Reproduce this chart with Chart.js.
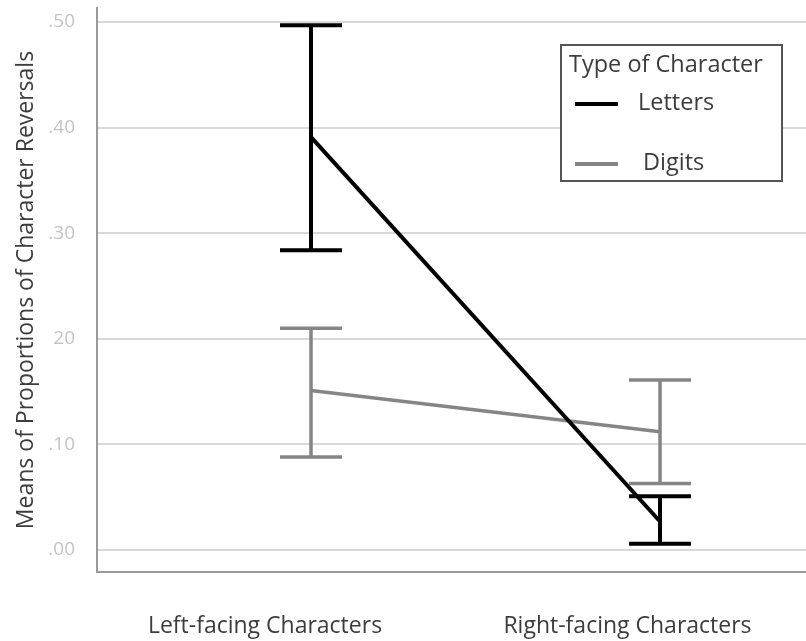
<!DOCTYPE html>
<html>
<head>
<meta charset="utf-8">
<script src="https://cdn.jsdelivr.net/npm/chart.js@4"></script>
<style>
  html, body { margin: 0; padding: 0; background: #fff; }
  #wrap { width: 806px; height: 641px; }
</style>
</head>
<body>
<div id="wrap"><canvas id="c" width="806" height="641"></canvas></div>
<script>
// Categories and tick labels
const CATEGORIES = ['Left-facing Characters', 'Right-facing Characters'];
const Y_TICK_LABELS = ['.00', '.10', '20', '.30', '.40', '.50'];

// Means and error-bar limits per type of character
const LETTERS = [0.391, 0.027];
const LETTERS_LOW = [0.284, 0.006];
const LETTERS_HIGH = [0.497, 0.051];

const DIGITS = [0.151, 0.112];
const DIGITS_LOW = [0.088, 0.063];
const DIGITS_HIGH = [0.210, 0.161];

const FONT = "'Open Sans', 'Liberation Sans', sans-serif";
const BLACK = '#000000';
const GRAY = '#858585';
const TEXT = '#3c3c3c';

function points(values) {
  return values.map((v, i) => ({ x: i, y: v }));
}

// Vertical error bars with caps, taken from the low/high arrays
const errorBars = {
  id: 'errorBars',
  afterDatasetsDraw(chart) {
    const { ctx, scales } = chart;
    const capHalf = 31;
    [1, 0].forEach(di => {
      const ds = chart.data.datasets[di];
      ctx.save();
      ctx.strokeStyle = ds.borderColor;
      ctx.lineWidth = ds.borderWidth;
      ctx.lineCap = 'butt';
      ds.low.forEach((lo, i) => {
        const x = scales.x.getPixelForValue(i);
        const yLo = scales.y.getPixelForValue(lo);
        const yHi = scales.y.getPixelForValue(ds.high[i]);
        ctx.beginPath();
        ctx.moveTo(x, yLo); ctx.lineTo(x, yHi);
        ctx.moveTo(x - capHalf, yLo); ctx.lineTo(x + capHalf, yLo);
        ctx.moveTo(x - capHalf, yHi); ctx.lineTo(x + capHalf, yHi);
        ctx.stroke();
      });
      ctx.restore();
    });
  }
};

// Boxed legend with a title, drawn inside the plot area
const boxLegend = {
  id: 'boxLegend',
  afterDraw(chart) {
    const { ctx } = chart;
    const bx = 561, by = 45, bw = 221, bh = 136;
    ctx.save();
    ctx.fillStyle = '#ffffff';
    ctx.fillRect(bx, by, bw, bh);
    ctx.strokeStyle = '#555555';
    ctx.lineWidth = 2;
    ctx.strokeRect(bx, by, bw, bh);
    ctx.fillStyle = TEXT;
    ctx.font = '23.5px ' + FONT;
    ctx.textBaseline = 'middle';
    ctx.textAlign = 'left';
    ctx.fillText('Type of Character', bx + 8, by + 20);
    const rows = [by + 59, by + 119];
    const textX = [bx + 77, bx + 82];
    chart.data.datasets.forEach((ds, i) => {
      const y = rows[i];
      ctx.strokeStyle = ds.borderColor;
      ctx.lineWidth = 4;
      ctx.beginPath();
      ctx.moveTo(bx + 14, y);
      ctx.lineTo(bx + 57, y);
      ctx.stroke();
      ctx.fillStyle = TEXT;
      ctx.fillText(ds.label, textX[i], y - 1);
    });
    ctx.restore();
  }
};

new Chart(document.getElementById('c'), {
  type: 'line',
  data: {
    datasets: [
      {
        label: 'Letters',
        data: points(LETTERS),
        low: LETTERS_LOW,
        high: LETTERS_HIGH,
        borderColor: BLACK,
        borderWidth: 4,
        pointRadius: 0,
        tension: 0
      },
      {
        label: 'Digits',
        data: points(DIGITS),
        low: DIGITS_LOW,
        high: DIGITS_HIGH,
        borderColor: GRAY,
        borderWidth: 3.5,
        pointRadius: 0,
        tension: 0
      }
    ]
  },
  options: {
    responsive: false,
    animation: false,
    layout: { padding: { top: 8, right: 0, bottom: 0, left: 0 } },
    plugins: {
      legend: { display: false },
      tooltip: { enabled: false }
    },
    scales: {
      x: {
        type: 'linear',
        display: false,
        min: -0.6132,
        max: 1.4183
      },
      xl: {
        type: 'linear',
        position: 'bottom',
        min: -0.4634,
        max: 1.4924,
        afterBuildTicks(scale) {
          scale.ticks = CATEGORIES.map((_, i) => ({ value: i }));
        },
        afterFit(scale) {
          scale.height = 69;
          scale.paddingLeft = 0;
          scale.paddingRight = 0;
        },
        grid: { display: false },
        border: { display: true, color: '#9a9a9a', width: 2 },
        ticks: {
          padding: 33,
          maxRotation: 0,
          autoSkip: false,
          color: TEXT,
          font: { family: FONT, size: 23 },
          callback: v => CATEGORIES[v]
        }
      },
      y: {
        type: 'linear',
        min: -0.0208,
        max: 0.5133,
        afterBuildTicks(scale) {
          scale.ticks = Y_TICK_LABELS.map((_, i) => ({ value: i / 10 }));
        },
        afterFit(scale) {
          scale.width = 97;
          scale.paddingTop = 0;
          scale.paddingBottom = 0;
        },
        grid: { color: '#d9d9d9', lineWidth: 2, drawTicks: false },
        border: { display: true, color: '#9a9a9a', width: 2 },
        ticks: {
          padding: 22,
          color: '#c4c4c4',
          font: { family: FONT, size: 19 },
          callback: (v, i) => Y_TICK_LABELS[i]
        },
        title: {
          display: true,
          text: 'Means of Proportions of Character Reversals',
          color: TEXT,
          font: { family: FONT, size: 23 },
          padding: { top: 13, bottom: 0 }
        }
      }
    }
  },
  plugins: [errorBars, boxLegend]
});
</script>
</body>
</html>
